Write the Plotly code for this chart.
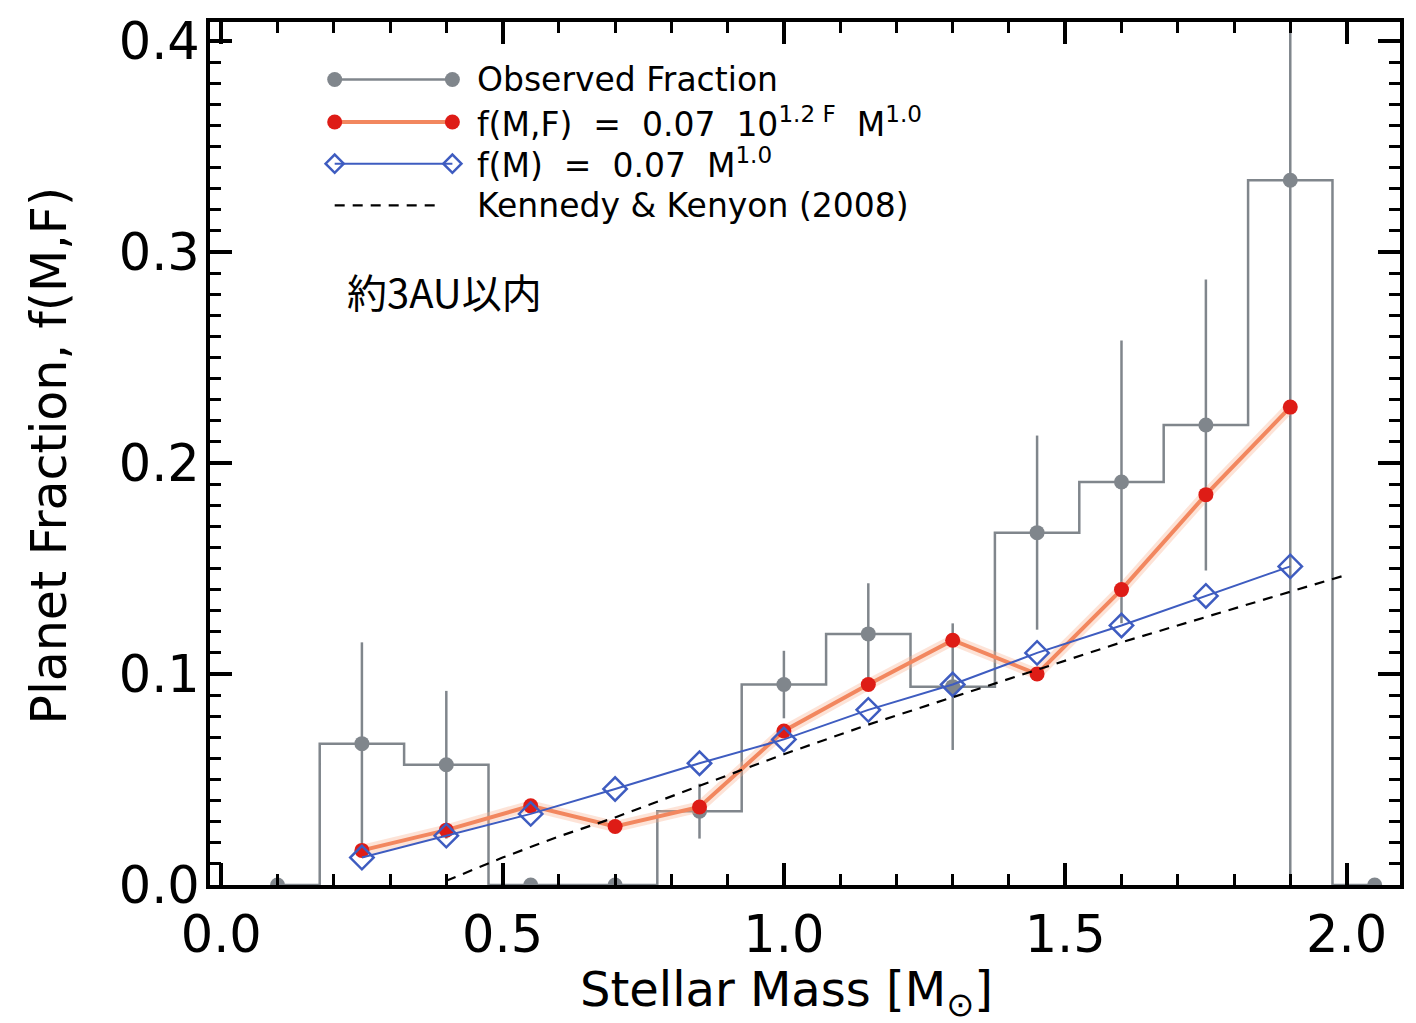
import plotly.graph_objects as go

# Stellar-mass bin centres [M_sun] and observed planet fraction per bin
mass = [0.10, 0.25, 0.40, 0.55, 0.70, 0.85, 1.00, 1.15, 1.30, 1.45, 1.60, 1.75, 1.90, 2.05]
obs_fraction = [0.0, 0.067, 0.057, 0.0, 0.0, 0.035, 0.095, 0.119, 0.094, 0.167, 0.191, 0.218, 0.334, 0.0]
obs_error = [0.0, 0.048, 0.035, 0.0, 0.0, 0.013, 0.016, 0.024, 0.030, 0.046, 0.067, 0.069, 0.334, 0.0]

# Model curves evaluated at the populated bins
model_mass = [0.25, 0.40, 0.55, 0.70, 0.85, 1.00, 1.15, 1.30, 1.45, 1.60, 1.75, 1.90]
fit_mass_metal = [0.0164, 0.026, 0.0375, 0.0277, 0.037, 0.073, 0.095, 0.116, 0.100, 0.140, 0.185, 0.2265]
fit_mass_only = [0.013, 0.0234, 0.0337, 0.0455, 0.0577, 0.069, 0.083, 0.095, 0.110, 0.123, 0.137, 0.151]

# Kennedy & Kenyon (2008) prediction
kk_mass = [0.40, 0.50, 0.60, 0.70, 0.85, 1.00, 1.15, 1.30, 1.45, 1.60, 1.75, 1.90, 2.00]
kk_fraction = [0.002, 0.013, 0.023, 0.032, 0.047, 0.062, 0.076, 0.089, 0.102, 0.115, 0.127, 0.139, 0.147]

legend_labels = [
    "Observed Fraction",
    "f(M,F)\u00a0\u00a0=\u00a0\u00a00.07\u00a0\u00a010<sup>1.2 F</sup>\u00a0\u00a0M<sup>1.0</sup>",
    "f(M)\u00a0\u00a0=\u00a0\u00a00.07\u00a0\u00a0M<sup>1.0</sup>",
    "Kennedy & Kenyon (2008)",
]
region_label = "約3AU以内"

GRAY = "rgb(128,134,140)"
RED_LINE = "rgb(242,135,95)"
RED_MARK = "rgb(222,28,22)"
BLUE = "rgb(62,92,192)"
FONT = "DejaVu Sans"

# Figure geometry (pixels)
W, H = 1416, 1023
L, R, T, B = 210, 13, 14, 138
PW, PH = W - L - R, H - T - B


def px(xp):
    return (xp - L) / PW


def py(yp):
    return (H - B - yp) / PH


fig = go.Figure()

# Observed fraction: stepped histogram with points and symmetric error bars
fig.add_trace(go.Scatter(
    x=mass, y=obs_fraction, mode="lines+markers",
    line=dict(color=GRAY, width=2.5, shape="hvh"),
    marker=dict(color=GRAY, size=15),
    error_y=dict(type="data", array=obs_error, symmetric=True,
                 color=GRAY, thickness=2.5, width=0),
    showlegend=False,
))

# f(M,F) model (soft halo under the line, then the line itself)
fig.add_trace(go.Scatter(
    x=model_mass, y=fit_mass_metal, mode="lines",
    line=dict(color="rgba(250,175,140,0.35)", width=11),
    showlegend=False, hoverinfo="skip",
))
fig.add_trace(go.Scatter(
    x=model_mass, y=fit_mass_metal, mode="lines+markers",
    line=dict(color=RED_LINE, width=4),
    marker=dict(color=RED_MARK, size=15),
    showlegend=False,
))

# f(M) model
fig.add_trace(go.Scatter(
    x=model_mass, y=fit_mass_only, mode="lines+markers",
    line=dict(color=BLUE, width=2),
    marker=dict(symbol="diamond-open", color=BLUE, size=18, line=dict(width=2.5, color=BLUE)),
    showlegend=False,
))

# Kennedy & Kenyon curve
fig.add_trace(go.Scatter(
    x=kk_mass, y=kk_fraction, mode="lines",
    line=dict(color="black", width=2.2, dash="10px,8px"),
    showlegend=False,
))

# Legend drawn on an overlay axis spanning the plot area in [0, 1]
leg_x0, leg_x1 = px(335), px(453)
leg_rows = [py(72), py(115), py(157), py(199)]
leg_styles = [
    dict(mode="lines+markers", line=dict(color=GRAY, width=2.5), marker=dict(color=GRAY, size=15)),
    dict(mode="lines+markers", line=dict(color=RED_LINE, width=4), marker=dict(color=RED_MARK, size=15)),
    dict(mode="lines+markers", line=dict(color=BLUE, width=2),
         marker=dict(symbol="diamond-open", color=BLUE, size=14, line=dict(width=2.5, color=BLUE))),
    dict(mode="lines", line=dict(color="black", width=2.2, dash="10px,8px")),
]
for row_y, style, label in zip(leg_rows, leg_styles, legend_labels):
    x_end = leg_x1 if style["mode"] != "lines" else px(440)
    fig.add_trace(go.Scatter(x=[leg_x0, x_end], y=[row_y, row_y], xaxis="x2", yaxis="y2",
                             showlegend=False, hoverinfo="skip", **style))
    fig.add_annotation(x=px(476), y=row_y, xref="paper", yref="paper", text=label,
                       showarrow=False, xanchor="left", yanchor="middle",
                       font=dict(family=FONT, size=33, color="black"))

fig.add_annotation(x=px(445), y=py(285), xref="paper", yref="paper", text=region_label,
                   showarrow=False, xanchor="center", yanchor="middle",
                   font=dict(family="Noto Sans CJK JP", size=40, color="black"))

# Axis titles
fig.add_annotation(x=px(788), y=py(994), xref="paper", yref="paper",
                   text="Stellar Mass [M<sub>\u2299</sub>]", showarrow=False,
                   xanchor="center", yanchor="middle",
                   font=dict(family=FONT, size=48, color="black"))
fig.add_annotation(x=px(50), y=py(452), xref="paper", yref="paper",
                   text="Planet Fraction, f(M,F)", showarrow=False, textangle=-90,
                   xanchor="center", yanchor="middle",
                   font=dict(family=FONT, size=49, color="black"))

axis_common = dict(
    showline=True, linecolor="black", linewidth=4, mirror="ticks",
    ticks="inside", tickcolor="black", tickwidth=4, ticklen=22,
    showgrid=False, zeroline=False,
    tickfont=dict(family=FONT, size=51, color="black"),
)

fig.update_layout(
    width=W, height=H,
    margin=dict(l=L, r=R, t=T, b=B),
    paper_bgcolor="white", plot_bgcolor="white",
    showlegend=False,
    xaxis=dict(range=[-0.02, 2.095], tick0=0, dtick=0.5, tickformat=".1f",
               minor=dict(dtick=0.1, ticks="inside", ticklen=11, tickwidth=3, tickcolor="black"),
               ticklabelstandoff=2, **axis_common),
    yaxis=dict(range=[0, 0.409], tick0=0, dtick=0.1, tickformat=".1f",
               minor=dict(dtick=0.01, ticks="inside", ticklen=11, tickwidth=3, tickcolor="black"),
               ticklabelstandoff=-4, **axis_common),
    xaxis2=dict(overlaying="x", anchor="y2", range=[0, 1], visible=False),
    yaxis2=dict(overlaying="y", anchor="x2", range=[0, 1], visible=False),
)

fig.write_html("out.html")
